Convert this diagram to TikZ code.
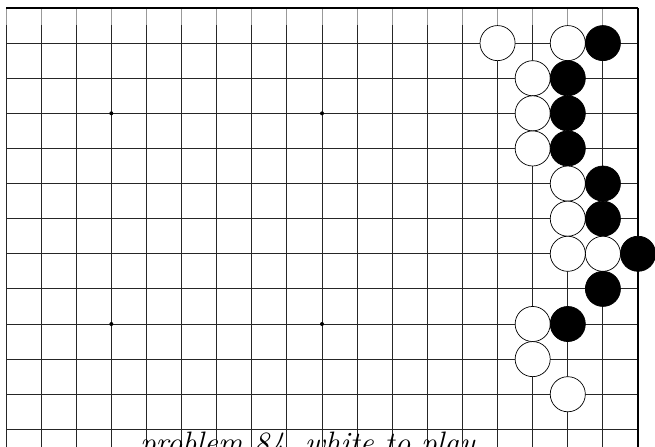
\documentclass[tikz,border=0pt]{standalone}
\begin{document}
\begin{tikzpicture}[x=35.111pt,y=-35.111pt,
  gridline/.style={line width=0.9pt,draw=black!85},
  fadeline/.style={line width=0.9pt,draw=black!40},
  borderline/.style={line width=1.1pt,draw=black},
  wstone/.style={circle,draw=black,line width=0.7pt,fill=white,minimum size=35.1pt,inner sep=0pt},
  bstone/.style={circle,draw=black,line width=0.7pt,fill=black,minimum size=35.1pt,inner sep=0pt},
  hoshi/.style={circle,fill=black,minimum size=4pt,inner sep=0pt}]
\useasboundingbox (0.8291,0.7722) rectangle (19.484,13.503);
\clip (0.8291,0.7722) rectangle (19.484,13.503);
% horizontal lines
\foreach \r in {2,...,13} \draw[gridline] (1,\r) -- (19,\r);
% vertical lines
\foreach \c in {1,...,18} {
  \draw[fadeline] (\c,1) -- (\c,1.484);
  \draw[gridline] (\c,1.484) -- (\c,14);
}
\draw[borderline] (19,1) -- (19,14);
\draw[borderline] (1,1) -- (19,1);
% star points
\node[hoshi] (h1) at (4,4) {};
\node[hoshi] (h2) at (10,4) {};
\node[hoshi] (h3) at (4,10) {};
\node[hoshi] (h4) at (10,10) {};
% stones
\node[wstone] (w1) at (15,2) {};
\node[wstone] (w2) at (17,2) {};
\node[bstone] (b1) at (18,2) {};
\node[wstone] (w3) at (16,3) {};
\node[bstone] (b2) at (17,3) {};
\node[wstone] (w4) at (16,4) {};
\node[bstone] (b3) at (17,4) {};
\node[wstone] (w5) at (16,5) {};
\node[bstone] (b4) at (17,5) {};
\node[wstone] (w6) at (17,6) {};
\node[bstone] (b5) at (18,6) {};
\node[wstone] (w7) at (17,7) {};
\node[bstone] (b6) at (18,7) {};
\node[wstone] (w8) at (17,8) {};
\node[wstone] (w9) at (18,8) {};
\node[bstone] (b7) at (19,8) {};
\node[bstone] (b8) at (18,9) {};
\node[wstone] (w10) at (16,10) {};
\node[bstone] (b9) at (17,10) {};
\node[wstone] (w11) at (16,11) {};
\node[wstone] (w12) at (17,12) {};
% caption
\node[anchor=base west,inner sep=0pt,font=\fontsize{31}{34}\selectfont\itshape] (cap) at (4.816,13.69) {problem 84, white to play};
\end{tikzpicture}
\end{document}
